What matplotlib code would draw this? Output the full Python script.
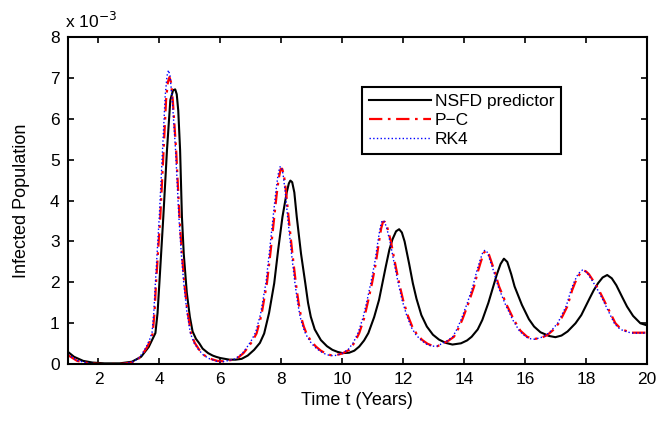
import numpy as np
import matplotlib.pyplot as plt

plt.rcParams['font.family'] = ['Liberation Sans', 'DejaVu Sans']

# Data (infected population in units of 1e-3)

# NSFD predictor
t_nsfd = [1.0, 1.2, 1.5, 1.8, 2.2, 2.7, 3.1, 3.4, 3.65, 3.87, 3.94, 4.0, 4.13, 4.25,
          4.36, 4.45, 4.52, 4.57, 4.62, 4.68, 4.74, 4.80, 4.90, 5.0, 5.09, 5.2, 5.31,
          5.42, 5.6, 5.75, 5.86, 6.0, 6.3, 6.5, 6.7, 6.9, 7.11, 7.3, 7.44, 7.6, 7.77,
          7.9, 8.04, 8.18, 8.25, 8.30, 8.36, 8.43, 8.51, 8.65, 8.79, 8.88, 8.97, 9.1,
          9.3, 9.5, 9.68, 9.85, 10.01, 10.23, 10.4, 10.56, 10.72, 10.86, 11.05, 11.21,
          11.43, 11.55, 11.65, 11.77, 11.87, 11.96, 12.05, 12.2, 12.32, 12.44, 12.6,
          12.78, 12.98, 13.18, 13.4, 13.62, 13.9, 14.1, 14.25, 14.45, 14.6, 14.8, 14.96,
          15.08, 15.2, 15.31, 15.42, 15.55, 15.66, 15.9, 16.13, 16.3, 16.51, 16.79, 17.0,
          17.2, 17.4, 17.66, 17.85, 17.99, 18.13, 18.26, 18.4, 18.55, 18.7, 18.85, 19.0,
          19.2, 19.35, 19.55, 19.79, 20.0]
i_nsfd = [0.30, 0.18, 0.08, 0.04, 0.02, 0.02, 0.06, 0.18, 0.42, 0.76, 1.25, 1.98, 3.61, 5.24,
          6.46, 6.70, 6.72, 6.60, 6.20, 5.24, 3.61, 2.70, 1.75, 1.16, 0.80, 0.62, 0.51,
          0.38, 0.27, 0.21, 0.18, 0.15, 0.11, 0.11, 0.13, 0.21, 0.35, 0.52, 0.75, 1.25, 1.98,
          2.80, 3.60, 4.20, 4.42, 4.49, 4.45, 4.20, 3.60, 2.70, 1.98, 1.50, 1.16, 0.85,
          0.59, 0.44, 0.35, 0.30, 0.27, 0.28, 0.33, 0.43, 0.58, 0.76, 1.15, 1.57,
          2.38, 2.80, 3.05, 3.25, 3.30, 3.22, 3.00, 2.45, 1.98, 1.60, 1.20,
          0.92, 0.72, 0.60, 0.52, 0.48, 0.51, 0.58, 0.67, 0.85, 1.08, 1.50, 1.90,
          2.20, 2.45, 2.58, 2.50, 2.20, 1.90, 1.45, 1.10, 0.92, 0.78, 0.69, 0.66,
          0.70, 0.80, 1.00, 1.20, 1.41, 1.62, 1.81, 1.98, 2.12, 2.18, 2.10, 1.93,
          1.63, 1.41, 1.18, 1.00, 0.95]

# P-C
t_pc = [1.0, 1.3, 1.7, 2.2, 2.8, 3.1, 3.3, 3.45, 3.6, 3.7, 3.78, 3.84, 3.89, 4.03, 4.14,
        4.22, 4.28, 4.33, 4.38, 4.44, 4.55, 4.66, 4.74, 4.82, 4.92, 5.04, 5.16, 5.31,
        5.47, 5.64, 5.9, 6.1, 6.35, 6.5, 6.62, 6.76, 6.9, 7.05, 7.19, 7.35, 7.53, 7.65,
        7.77, 7.85, 7.92, 7.98, 8.03, 8.09, 8.16, 8.24, 8.36, 8.48, 8.57, 8.65, 8.74,
        8.83, 8.98, 9.14, 9.3, 9.47, 9.62, 9.79, 10.0, 10.23, 10.4, 10.56, 10.72, 10.86,
        10.98, 11.1, 11.2, 11.28, 11.34, 11.4, 11.48, 11.6, 11.76, 11.88, 12.0, 12.15,
        12.3, 12.46, 12.63, 12.8, 12.96, 13.13, 13.3, 13.5, 13.67, 13.8, 13.94, 14.15,
        14.33, 14.45, 14.55, 14.65, 14.72, 14.8, 14.9, 15.0, 15.15, 15.4, 15.64, 15.85,
        16.07, 16.22, 16.35, 16.55, 16.73, 16.92, 17.11, 17.25, 17.39, 17.55, 17.65,
        17.75, 17.85, 17.92, 18.0, 18.1, 18.25, 18.43, 18.57, 18.7, 18.84, 18.97, 19.1,
        19.25, 19.5, 20.0]
i_pc = [0.22, 0.08, 0.02, 0.00, 0.01, 0.04, 0.12, 0.25, 0.42, 0.58, 0.75, 1.25, 1.98, 3.60, 5.24,
        6.46, 6.90, 7.02, 6.90, 6.46, 5.24, 3.60, 2.70, 1.98, 1.30, 0.75, 0.52, 0.35,
        0.22, 0.14, 0.08, 0.07, 0.10, 0.13, 0.18, 0.27, 0.40, 0.56, 0.75, 1.20, 1.98, 2.75,
        3.60, 4.15, 4.55, 4.77, 4.78, 4.62, 4.20, 3.60, 2.75, 1.98, 1.50, 1.16, 0.92,
        0.75, 0.56, 0.43, 0.33, 0.26, 0.22, 0.22, 0.26, 0.35, 0.52, 0.76, 1.12, 1.57,
        1.98, 2.45, 2.95, 3.32, 3.48, 3.48, 3.35, 3.00, 2.38, 1.95, 1.57, 1.20,
        0.92, 0.72, 0.59, 0.50, 0.45, 0.44, 0.50, 0.58, 0.67, 0.85, 1.08, 1.50,
        1.90, 2.25, 2.50, 2.72, 2.78, 2.72, 2.50, 2.28, 1.90, 1.45, 1.08, 0.82,
        0.67, 0.63, 0.62, 0.65, 0.71, 0.83, 1.00, 1.20, 1.41, 1.81, 2.00,
        2.15, 2.26, 2.29, 2.27, 2.20, 2.03, 1.81, 1.60, 1.41, 1.20, 1.00, 0.90,
        0.83, 0.77, 0.77]

# RK4
t_rk4 = [1.0, 1.3, 1.7, 2.2, 2.8, 3.1, 3.3, 3.45, 3.58, 3.68, 3.76, 3.82, 3.87, 4.0, 4.11,
         4.19, 4.25, 4.30, 4.35, 4.42, 4.53, 4.64, 4.72, 4.8, 4.9, 5.02, 5.14, 5.29,
         5.45, 5.62, 5.88, 6.08, 6.33, 6.48, 6.6, 6.74, 6.88, 7.02, 7.16, 7.32, 7.5, 7.62,
         7.74, 7.82, 7.89, 7.95, 8.0, 8.06, 8.13, 8.21, 8.33, 8.45, 8.54, 8.62, 8.71,
         8.8, 8.95, 9.1, 9.27, 9.44, 9.6, 9.76, 9.97, 10.2, 10.37, 10.53, 10.69, 10.83,
         10.95, 11.07, 11.17, 11.25, 11.31, 11.37, 11.45, 11.57, 11.73, 11.85, 11.97, 12.12,
         12.27, 12.43, 12.6, 12.77, 12.93, 13.1, 13.27, 13.47, 13.64, 13.77, 13.91, 14.12,
         14.3, 14.42, 14.52, 14.62, 14.69, 14.77, 14.87, 14.97, 15.12, 15.37, 15.61, 15.82,
         16.04, 16.19, 16.32, 16.52, 16.7, 16.89, 17.08, 17.22, 17.36, 17.52, 17.62,
         17.72, 17.82, 17.89, 17.97, 18.07, 18.22, 18.4, 18.54, 18.67, 18.81, 18.94, 19.07,
         19.22, 19.5, 20.0]
i_rk4 = [0.24, 0.09, 0.02, 0.00, 0.01, 0.05, 0.13, 0.27, 0.44, 0.60, 0.78, 1.30, 2.00, 3.65, 5.30,
         6.55, 7.05, 7.19, 7.05, 6.50, 5.25, 3.60, 2.70, 1.98, 1.30, 0.75, 0.52, 0.35,
         0.22, 0.14, 0.07, 0.06, 0.10, 0.13, 0.19, 0.28, 0.42, 0.58, 0.78, 1.22, 2.00, 2.80,
         3.65, 4.20, 4.60, 4.82, 4.83, 4.65, 4.22, 3.60, 2.75, 1.98, 1.50, 1.16, 0.92,
         0.74, 0.55, 0.42, 0.32, 0.25, 0.21, 0.21, 0.25, 0.36, 0.53, 0.78, 1.15, 1.60,
         2.02, 2.48, 2.98, 3.35, 3.51, 3.50, 3.37, 3.00, 2.38, 1.95, 1.56, 1.19,
         0.90, 0.71, 0.58, 0.49, 0.44, 0.44, 0.50, 0.58, 0.68, 0.86, 1.10, 1.52,
         1.93, 2.28, 2.53, 2.74, 2.79, 2.73, 2.50, 2.28, 1.90, 1.44, 1.07, 0.81,
         0.66, 0.62, 0.61, 0.65, 0.71, 0.84, 1.01, 1.22, 1.43, 1.83, 2.02,
         2.17, 2.27, 2.30, 2.28, 2.20, 2.03, 1.80, 1.60, 1.40, 1.19, 0.99, 0.89,
         0.82, 0.76, 0.76]

x_ticks = np.arange(2, 21, 2)
y_ticks = np.arange(0, 9, 1)

fig = plt.figure(figsize=(6.6, 4.21), dpi=100)
ax = fig.add_axes([0.103, 0.135, 0.877, 0.777])

ax.plot(t_nsfd, i_nsfd, color='black', lw=1.5, label='NSFD predictor')
ax.plot(t_pc, i_pc, color='red', lw=1.6, dashes=(6, 2.5, 1.2, 2.5), label='P\u2212C')
ax.plot(t_rk4, i_rk4, color='blue', lw=1.0, ls=':', label='RK4')

ax.set_xlim(1, 20)
ax.set_ylim(0, 8)
ax.set_xticks(x_ticks)
ax.set_yticks(y_ticks)
ax.tick_params(direction='in', length=4, width=1.2, labelsize=12.5,
               top=True, right=True, pad=6)
for s in ax.spines.values():
    s.set_linewidth(1.5)

ax.set_xlabel('Time t (Years)', fontsize=13, labelpad=3)
ax.set_ylabel('Infected Population', fontsize=13, labelpad=14)
ax.text(-0.005, 1.02, r'x 10$^{-3}$', transform=ax.transAxes, fontsize=12.5,
        ha='left', va='bottom')

leg = ax.legend(loc='upper left', bbox_to_anchor=(0.508, 0.847), borderaxespad=0,
                fontsize=12.5, handlelength=3.6, handletextpad=0.2, labelspacing=0.22,
                borderpad=0.4, fancybox=False, framealpha=1)
leg.get_frame().set_edgecolor('black')
leg.get_frame().set_linewidth(1.5)

fig.savefig('out.png', dpi=100)
